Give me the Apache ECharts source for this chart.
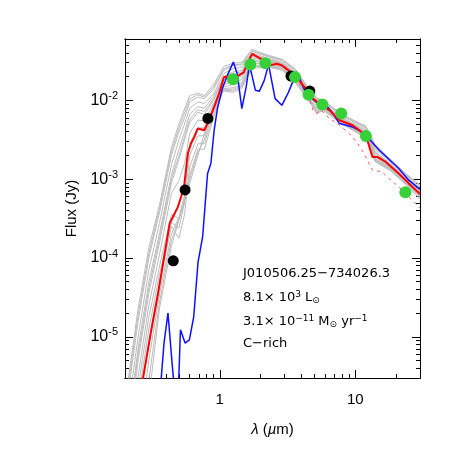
<!DOCTYPE html>
<html>
<head>
<meta charset="utf-8">
<script src="https://cdn.jsdelivr.net/npm/echarts@6/dist/echarts.min.js"></script>
<style>
  html, body { margin: 0; padding: 0; background: #fff; }
  #chart { width: 458px; height: 458px; }
</style>
</head>
<body>
<div id="chart"></div>
<script>
// wavelength grid (micron) shared by the grey model grid
const waveGrid = [0.2, 0.25, 0.3, 0.36, 0.44, 0.5, 0.55, 0.6, 0.69, 0.77, 0.9, 1.07, 1.25, 1.45, 1.73, 2.2, 2.9, 3.6, 4.5, 5.2, 5.8, 8, 12, 14, 18, 24, 30];
// grey models, log10 flux (Jy)
const grayModels = [
  [-5.84,-4.64,-3.87,-3.32,-2.60,-2.30,-2.11,-1.94,-1.91,-1.94,-1.80,-1.57,-1.53,-1.52,-1.35,-1.42,-1.48,-1.60,-1.84,-1.97,-2.00,-2.18,-2.33,-2.56,-2.74,-2.94,-3.07],
  [-5.92,-4.72,-3.94,-3.37,-2.65,-2.35,-2.16,-1.98,-1.93,-1.96,-1.83,-1.60,-1.55,-1.54,-1.37,-1.43,-1.49,-1.61,-1.85,-1.98,-2.01,-2.19,-2.34,-2.58,-2.75,-2.95,-3.08],
  [-6.0,-4.8,-4.0,-3.42,-2.70,-2.40,-2.22,-2.02,-1.96,-1.98,-1.86,-1.62,-1.56,-1.55,-1.38,-1.44,-1.50,-1.62,-1.86,-1.99,-2.02,-2.20,-2.35,-2.60,-2.76,-2.96,-3.10],
  [-6.2,-5.0,-4.15,-3.55,-2.82,-2.50,-2.30,-2.10,-2.02,-2.04,-1.92,-1.66,-1.60,-1.58,-1.40,-1.46,-1.52,-1.64,-1.88,-2.02,-2.04,-2.22,-2.37,-2.62,-2.78,-2.98,-3.12],
  [-6.4,-5.15,-4.3,-3.68,-2.95,-2.62,-2.40,-2.18,-2.08,-2.10,-1.95,-1.70,-1.64,-1.62,-1.42,-1.47,-1.53,-1.65,-1.90,-2.03,-2.05,-2.23,-2.39,-2.65,-2.80,-3.00,-3.14],
  [-6.5,-5.22,-4.38,-3.74,-3.00,-2.70,-2.46,-2.24,-2.12,-2.14,-1.98,-1.72,-1.66,-1.64,-1.43,-1.48,-1.54,-1.66,-1.91,-2.04,-2.06,-2.24,-2.40,-2.66,-2.81,-3.01,-3.15],
  [-6.6,-5.3,-4.45,-3.80,-3.05,-2.75,-2.50,-2.28,-2.15,-2.18,-2.00,-1.74,-1.68,-1.66,-1.44,-1.49,-1.54,-1.67,-1.91,-2.05,-2.06,-2.24,-2.41,-2.68,-2.81,-3.01,-3.16],
  [-6.8,-5.5,-4.6,-3.95,-3.18,-3.02,-2.80,-2.42,-2.25,-2.26,-2.04,-1.78,-1.72,-1.70,-1.46,-1.50,-1.55,-1.68,-1.93,-2.07,-2.07,-2.25,-2.42,-2.70,-2.82,-3.02,-3.17],
  [-7.0,-5.65,-4.75,-4.10,-3.45,-3.50,-3.20,-2.55,-2.35,-2.35,-2.08,-1.80,-1.76,-1.74,-1.48,-1.52,-1.57,-1.70,-1.95,-2.10,-2.08,-2.26,-2.43,-2.72,-2.84,-3.03,-3.19],
  [-7.2,-5.8,-4.9,-4.2,-3.55,-3.62,-3.30,-2.70,-2.45,-2.45,-2.12,-1.83,-1.80,-1.78,-1.50,-1.53,-1.58,-1.72,-1.96,-2.12,-2.09,-2.27,-2.44,-2.74,-2.85,-3.04,-3.20],
  [-7.4,-6.0,-5.05,-4.3,-3.6,-3.75,-3.45,-2.85,-2.55,-2.55,-2.18,-1.85,-1.84,-1.80,-1.53,-1.54,-1.59,-1.73,-1.97,-2.14,-2.10,-2.28,-2.45,-2.75,-2.86,-3.05,-3.21],
  [-7.6,-6.3,-5.3,-4.45,-3.7,-3.48,-3.25,-2.95,-2.62,-2.62,-2.22,-1.86,-1.86,-1.82,-1.56,-1.55,-1.60,-1.75,-1.98,-2.16,-2.11,-2.29,-2.46,-2.76,-2.87,-3.06,-3.22],
  [-7.8,-6.6,-5.55,-4.55,-3.78,-3.50,-3.26,-3.0,-2.66,-2.5,-2.12,-1.87,-1.88,-1.83,-1.58,-1.56,-1.61,-1.76,-1.99,-2.17,-2.12,-2.29,-2.47,-2.77,-2.88,-3.07,-3.23],
  [-8.0,-6.97,-5.78,-4.63,-3.85,-3.52,-3.28,-3.06,-2.70,-2.42,-2.05,-1.88,-1.90,-1.85,-1.60,-1.57,-1.62,-1.77,-2.00,-2.15,-2.13,-2.30,-2.48,-2.78,-2.89,-3.08,-3.25]
];

// best-fit model (red)
const redWave = [0.27,0.313,0.351,0.382,0.404,0.427,0.452,0.491,0.519,0.549,0.581,0.614,0.649,0.688,0.768,0.813,0.909,0.988,1.075,1.106,1.383,1.504,1.636,1.733,2.105,2.29,2.64,2.87,3.21,3.69,4.12,4.62,4.88,5.46,6.46,7.64,9.55,11.97,13.37,14.5,16.75,20.9,24.8,30];
const redLogF = [-5.55,-4.91,-4.447,-4.067,-3.814,-3.561,-3.477,-3.351,-3.224,-3.054,-2.675,-2.548,-2.465,-2.358,-2.380,-2.295,-2.085,-1.915,-1.705,-1.684,-1.684,-1.646,-1.494,-1.411,-1.494,-1.557,-1.535,-1.557,-1.620,-1.705,-1.810,-1.915,-1.978,-2.042,-2.127,-2.253,-2.316,-2.443,-2.718,-2.718,-2.781,-2.928,-3.054,-3.19];

// second model (red dashed)
const dashWave = [3.59,4.10,4.62,4.88,5.17,5.62,6.46,7.64,9.04,10.4,11.6,13.4,15.8,17.7,20.9,24.8,30];
const dashLogF = [-1.709,-1.848,-2.0,-2.127,-2.168,-2.127,-2.232,-2.316,-2.422,-2.548,-2.675,-2.886,-2.908,-2.991,-3.097,-3.224,-3.37];

// blue model
const blueWave = [0.362,0.388,0.415,0.446,0.470,0.494,0.513,0.555,0.597,0.643,0.691,0.748,0.790,0.813,0.860,0.909,0.962,1.046,1.138,1.259,1.346,1.455,1.569,1.655,1.832,1.959,2.13,2.29,2.56,2.87,3.21,3.49,3.84,4.12,4.49,5.17,6.11,6.83,7.64,8.55,9.55,10.7,11.97,15.0,17.7,20.9,24.8,30];
const blueLogF = [-5.73,-5.08,-4.70,-5.354,-5.80,-5.73,-4.911,-5.08,-5.038,-4.743,-4.057,-3.73,-3.203,-2.928,-2.801,-2.380,-2.101,-1.848,-1.684,-1.515,-1.662,-2.105,-1.823,-1.544,-1.873,-1.886,-1.747,-1.544,-1.978,-2.063,-1.899,-1.747,-1.696,-1.832,-1.937,-2.022,-2.063,-2.168,-2.295,-2.316,-2.338,-2.380,-2.443,-2.633,-2.747,-2.865,-3.013,-3.13];

// photometry (micron, Jy)
const blackWave = [0.454, 0.555, 0.817, 3.35, 4.62];
const blackFlux = [9.2e-5, 7.3e-4, 5.9e-3, 0.0203, 0.0131];
const greenWave = [1.25, 1.68, 2.17, 3.59, 4.52, 5.71, 7.87, 11.97, 23.4];
const greenFlux = [0.0185, 0.0285, 0.0296, 0.0197, 0.0118, 0.00883, 0.00679, 0.00353, 0.00068];

// axis ranges and ticks
const xMin = 0.2, xMax = 30;
const yMin = 3e-6, yMax = 0.06;
const xMajor = [1, 10];
const xMinor = [0.2, 0.3, 0.4, 0.5, 0.6, 0.7, 0.8, 0.9, 2, 3, 4, 5, 6, 7, 8, 9, 20, 30];
const yMajor = [1e-5, 1e-4, 1e-3, 1e-2];
const yMinor = [3e-6, 4e-6, 5e-6, 6e-6, 7e-6, 8e-6, 9e-6,
  2e-5, 3e-5, 4e-5, 5e-5, 6e-5, 7e-5, 8e-5, 9e-5,
  2e-4, 3e-4, 4e-4, 5e-4, 6e-4, 7e-4, 8e-4, 9e-4,
  2e-3, 3e-3, 4e-3, 5e-3, 6e-3, 7e-3, 8e-3, 9e-3,
  2e-2, 3e-2, 4e-2, 5e-2, 6e-2];

const FONT = 'Liberation Sans';

function pairsLog(w, lf) {
  return w.map((x, i) => [x, Math.pow(10, lf[i])]);
}
function pairs(w, f) {
  return w.map((x, i) => [x, f[i]]);
}

function xAxisOf(pos, ticks, len, labels) {
  return {
    type: 'log', min: xMin, max: xMax, position: pos,
    axisLine: { show: true, onZero: false, lineStyle: { color: '#000', width: 1 } },
    axisTick: { show: true, inside: true, length: len, customValues: ticks, lineStyle: { color: '#000', width: 1 } },
    axisLabel: labels ? {
      show: true, customValues: xMajor, margin: 14, color: '#000',
      fontFamily: FONT, fontSize: 15, formatter: v => String(v)
    } : { show: false },
    splitLine: { show: false }, minorTick: { show: false }
  };
}
function yAxisOf(pos, ticks, len, labels) {
  return {
    type: 'log', min: yMin, max: yMax, position: pos,
    axisLine: { show: true, onZero: false, lineStyle: { color: '#000', width: 1 } },
    axisTick: { show: true, inside: true, length: len, customValues: ticks, lineStyle: { color: '#000', width: 1 } },
    axisLabel: labels ? {
      show: true, customValues: yMajor, margin: 7, color: '#000',
      formatter: v => '{b|10}{s|' + Math.round(Math.log10(v)) + '}',
      rich: {
        b: { fontFamily: FONT, fontSize: 16, color: '#000' },
        s: { fontFamily: FONT, fontSize: 11, color: '#000', padding: [0, 0, 9, 0] }
      }
    } : { show: false },
    splitLine: { show: false }, minorTick: { show: false }
  };
}

const series = [];
grayModels.forEach((m, i) => {
  series.push({
    name: 'grid' + i, type: 'line', data: pairsLog(waveGrid, m),
    showSymbol: false, lineStyle: { color: '#bcbcbc', width: 1 }, z: 1
  });
});
series.push({
  name: 'dashed', type: 'line', data: pairsLog(dashWave, dashLogF), showSymbol: false,
  lineStyle: { color: '#ff5a5a', width: 1, type: [3, 4] }, z: 2
});
series.push({
  name: 'blue', type: 'line', data: pairsLog(blueWave, blueLogF), showSymbol: false,
  lineStyle: { color: '#1010ff', width: 1.5 }, z: 3
});
series.push({
  name: 'best', type: 'line', data: pairsLog(redWave, redLogF), showSymbol: false,
  lineStyle: { color: '#ff0000', width: 2 }, z: 4
});
series.push({
  name: 'black', type: 'scatter', data: pairs(blackWave, blackFlux), symbolSize: 11,
  itemStyle: { color: '#000', opacity: 1 }, z: 5
});
series.push({
  name: 'green', type: 'scatter', data: pairs(greenWave, greenFlux), symbolSize: 12,
  itemStyle: { color: '#38d038', opacity: 1 }, z: 6
});

const annot = [
  { y: 275, text: 'J010506.25−734026.3' },
  { y: 298, text: '{a|8.1× 10}{u|3}{a| L}{d|⊙}' },
  { y: 322, text: '{a|3.1× 10}{u|−11}{a| M}{d|⊙}{a| yr}{u|−1}' },
  { y: 345, text: 'C−rich' }
];

const chart = echarts.init(document.getElementById('chart'));
chart.setOption({
  animation: false,
  backgroundColor: '#fff',
  grid: { left: 125, right: 38, top: 39, bottom: 80 },
  xAxis: [
    Object.assign(xAxisOf('bottom', xMajor, 8, true), {
      name: '{i|λ} ({i|µ}m)', nameLocation: 'middle', nameGap: 44,
      nameTextStyle: { fontFamily: FONT, fontSize: 15, color: '#000',
        rich: { i: { fontFamily: FONT, fontSize: 15, fontStyle: 'italic', color: '#000' } } }
    }),
    xAxisOf('bottom', xMinor, 4, false),
    xAxisOf('top', xMajor, 8, false),
    xAxisOf('top', xMinor, 4, false)
  ],
  yAxis: [
    Object.assign(yAxisOf('left', yMajor, 8, true), {
      name: 'Flux (Jy)', nameLocation: 'middle', nameGap: 38,
      nameTextStyle: { fontFamily: FONT, fontSize: 15, color: '#000' }
    }),
    yAxisOf('left', yMinor, 4, false),
    yAxisOf('right', yMajor, 8, false),
    yAxisOf('right', yMinor, 4, false)
  ],
  graphic: annot.map(a => ({
    type: 'text', left: 243, top: a.y - 8, z: 10,
    style: {
      text: a.text, font: '13px DejaVu Sans', fill: '#000',
      rich: {
        a: { fontFamily: 'DejaVu Sans', fontSize: 13, fill: '#000' },
        u: { fontFamily: 'DejaVu Sans', fontSize: 9, fill: '#000', padding: [0, 0, 7, 0] },
        d: { fontFamily: 'DejaVu Sans', fontSize: 9, fill: '#000', padding: [5, 0, 0, 0] }
      }
    }
  })),
  series: series
});
</script>
</body>
</html>
